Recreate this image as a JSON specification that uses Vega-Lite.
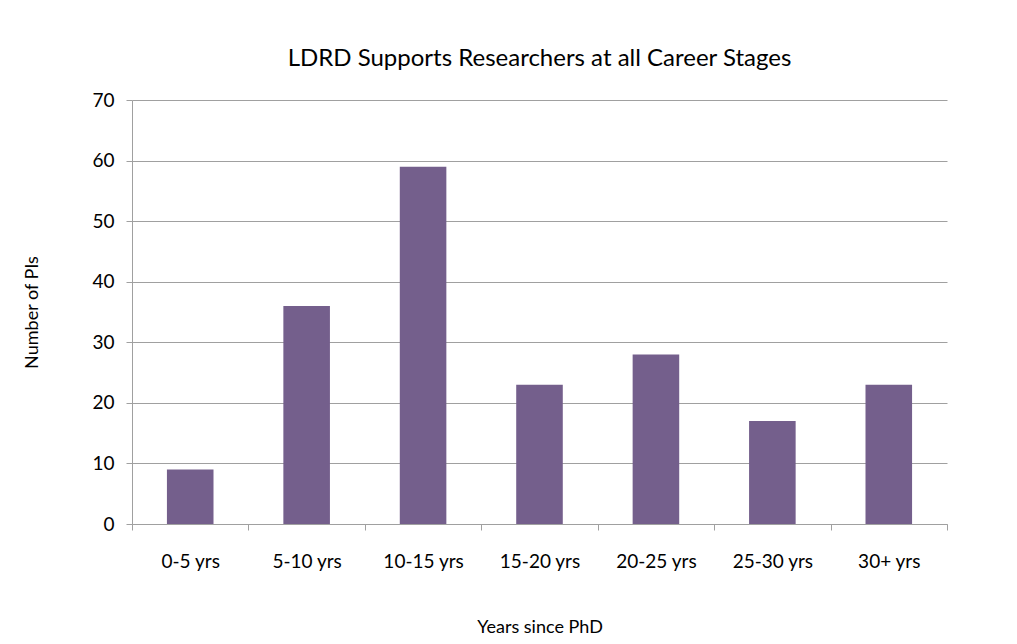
{
  "$schema": "https://vega.github.io/schema/vega-lite/v6.json",
  "autosize": {"type": "none"},
  "padding": {"left": 132, "top": 100, "right": 70, "bottom": 120},
  "width": 815,
  "height": 424,
  "background": "white",
  "title": {
    "text": "LDRD Supports Researchers at all Career Stages",
    "font": "Lato",
    "fontSize": 24,
    "fontWeight": "normal",
    "color": "#000000",
    "anchor": "middle",
    "offset": 20
  },
  "data": {
    "values": [
      {"stage": "0-5 yrs", "pis": 9},
      {"stage": "5-10 yrs", "pis": 36},
      {"stage": "10-15 yrs", "pis": 59},
      {"stage": "15-20 yrs", "pis": 23},
      {"stage": "20-25 yrs", "pis": 28},
      {"stage": "25-30 yrs", "pis": 17},
      {"stage": "30+ yrs", "pis": 23}
    ]
  },
  "mark": {"type": "bar", "color": "#745F8C", "width": {"band": 0.4}},
  "encoding": {
    "x": {
      "field": "stage",
      "type": "nominal",
      "sort": null,
      "scale": {"paddingInner": 0, "paddingOuter": 0},
      "axis": {
        "title": "Years since PhD",
        "labelAngle": 0,
        "tickBand": "extent",
        "labelPadding": 22,
        "titlePadding": 47,
        "grid": false
      }
    },
    "y": {
      "field": "pis",
      "type": "quantitative",
      "scale": {"domain": [0, 70]},
      "axis": {
        "title": "Number of PIs",
        "values": [0, 10, 20, 30, 40, 50, 60, 70],
        "labelPadding": 12,
        "titlePadding": 50,
        "grid": true
      }
    }
  },
  "config": {
    "view": {"stroke": null},
    "axis": {
      "labelFont": "Lato",
      "labelFontSize": 19,
      "labelColor": "#000000",
      "titleFont": "Lato",
      "titleFontSize": 18,
      "titleFontWeight": "normal",
      "titleColor": "#000000",
      "domainColor": "#a0a0a0",
      "tickColor": "#a0a0a0",
      "tickSize": 6,
      "gridColor": "#a0a0a0",
      "gridWidth": 1
    }
  }
}
